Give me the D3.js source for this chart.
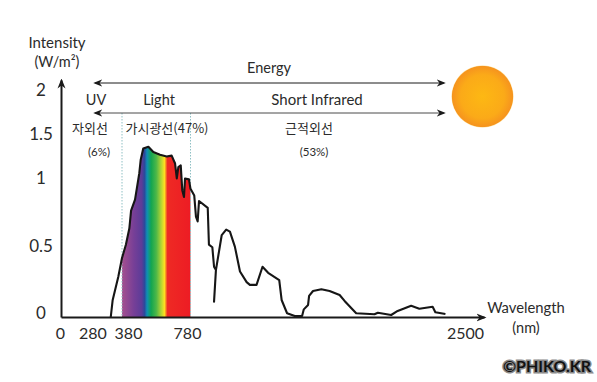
<!DOCTYPE html>
<html>
<head>
<meta charset="utf-8">
<script src="https://cdn.jsdelivr.net/npm/d3@7"></script>
<style>
  html, body { margin: 0; padding: 0; background: #fff; }
  svg { display: block; }
  text { font-family: Lato, "Noto Sans", sans-serif; fill: #2b2b2b; }
  .ko { font-family: "Noto Sans CJK KR", sans-serif; }
</style>
</head>
<body>
<div id="chart-area"></div>
<script>
const wavelength = [310, 322, 357, 380, 403, 423, 433, 456, 481, 489, 504, 534, 563, 602, 641, 670, 690, 700, 709, 723, 732, 742, 748, 771, 780,
  802, 812, 822, 830, 881, 888, 908, 918, 929, 918, 929, 963, 989, 1011, 1040, 1070, 1109, 1128, 1167, 1202, 1235, 1300, 1314, 1346, 1391, 1434,
  1444, 1469, 1475, 1498, 1547, 1595, 1654, 1683, 1712, 1751, 1858, 1878, 1956, 1994, 2073, 2121, 2199, 2215, 2274]
const intensity = [0, 0.127, 0.30, 0.44, 0.54, 0.66, 0.79, 0.87, 1.10, 1.25, 1.38, 1.40, 1.34, 1.31, 1.29, 1.30, 1.21, 1.04, 1.17, 1.19, 0.94, 0.89, 1.04, 1.03, 0.95,
  0.90, 0.745, 0.71, 0.86, 0.81, 0.54, 0.52, 0.375, 0.35, 0.115, 0.35, 0.61, 0.65, 0.635, 0.525, 0.34, 0.26, 0.24, 0.24, 0.375, 0.33, 0.276, 0.127, 0.028, 0.007, 0.007,
  0.057, 0.09, 0.157, 0.194, 0.207, 0.194, 0.164, 0.12, 0.08, 0.028, 0.02, 0.032, 0.015, 0.045, 0.084, 0.062, 0.077, 0.035, 0.022]

const xTicks = [0, 280, 380, 780, 2500]
const yTicks = [0, 0.5, 1, 1.5, 2]

const spectrumNm = [380, 450, 495, 512, 526, 550, 580, 615, 628, 645, 780]
const spectrumColors = ["#a5508f", "#763f97", "#5c3c98", "#2a4a9c", "#0f8fb5", "#12a550", "#4cb748", "#c9d92e", "#fde021", "#ee2a24", "#ed1c24"]

const points = wavelength.map((w, i) => ({ w, v: intensity[i] }))

const dimensions = { width: 597, height: 382 }

// The axes of the original are not linear, so the scales are piecewise
const xScale = d3.scaleLinear()
  .domain([0, 380, 780, 2500])
  .range([61, 122, 190.5, 484])

const yScale = d3.scaleLinear()
  .domain([0, 0.5, 1, 1.5, 2, 2.3])
  .range([317, 250, 182, 138, 94, 80])

const wrapper = d3.select("#chart-area").append("svg")
  .attr("width", dimensions.width)
  .attr("height", dimensions.height)

const defs = wrapper.append("defs")

const addArrow = (id, size) => {
  defs.append("marker")
    .attr("id", id)
    .attr("viewBox", "0 0 10 10")
    .attr("refX", 8)
    .attr("refY", 5)
    .attr("markerUnits", "userSpaceOnUse")
    .attr("markerWidth", size)
    .attr("markerHeight", size)
    .attr("orient", "auto-start-reverse")
    .append("path")
    .attr("d", "M0,1 L10,5 L0,9 L3,5 Z")
    .attr("fill", "#1a1a1a")
}
addArrow("arrow", 9)
addArrow("axis-arrow", 10)

const spectrum = defs.append("linearGradient")
  .attr("id", "spectrum")
  .attr("gradientUnits", "userSpaceOnUse")
  .attr("x1", xScale(380))
  .attr("x2", xScale(780))
  .attr("y1", 0)
  .attr("y2", 0)
spectrum.selectAll("stop")
  .data(spectrumNm)
  .join("stop")
  .attr("offset", d => (xScale(d) - xScale(380)) / (xScale(780) - xScale(380)))
  .attr("stop-color", (d, i) => spectrumColors[i])

const sunGradient = defs.append("radialGradient").attr("id", "sun")
sunGradient.append("stop").attr("offset", "0%").attr("stop-color", "#fdb813")
sunGradient.append("stop").attr("offset", "70%").attr("stop-color", "#fbaa18")
sunGradient.append("stop").attr("offset", "97%").attr("stop-color", "#f6941e")
sunGradient.append("stop").attr("offset", "100%").attr("stop-color", "#fbd98a")

// Spectrum under the curve, 380 to 780 only
const visible = points.filter(d => d.w >= 380 && d.w <= 780)
const areaGenerator = d3.area()
  .x(d => xScale(d.w))
  .y0(yScale(0))
  .y1(d => yScale(d.v))
wrapper.append("path")
  .attr("d", areaGenerator(visible))
  .attr("fill", "url(#spectrum)")

// Dotted limits of the visible band
wrapper.selectAll(".band")
  .data([380, 780])
  .join("line")
  .attr("class", "band")
  .attr("x1", d => xScale(d))
  .attr("x2", d => xScale(d))
  .attr("y1", 113)
  .attr("y2", 317)
  .attr("stroke", "#8fc0c4")
  .attr("stroke-width", 1)
  .attr("stroke-dasharray", "1.5 1.5")

// Curve
const lineGenerator = d3.line()
  .x(d => xScale(d.w))
  .y(d => yScale(d.v))
wrapper.append("path")
  .attr("d", lineGenerator(points))
  .attr("fill", "none")
  .attr("stroke", "#161616")
  .attr("stroke-width", 2.1)
  .attr("stroke-linejoin", "round")

// Axes
const xAxisGenerator = d3.axisBottom(xScale)
  .tickValues(xTicks)
  .tickSize(0)
  .tickPadding(0)
  .tickFormat(d3.format("d"))
const xAxis = wrapper.append("g")
  .attr("transform", `translate(0, ${yScale(0)})`)
  .call(xAxisGenerator)

const yAxisGenerator = d3.axisLeft(yScale)
  .tickValues(yTicks)
  .tickSize(0)
  .tickFormat(d => d)
const yAxis = wrapper.append("g")
  .attr("transform", `translate(${xScale(0)}, 0)`)
  .call(yAxisGenerator)

xAxis.select(".domain").attr("stroke", "#1a1a1a").attr("stroke-width", 2).attr("marker-end", "url(#axis-arrow)")
yAxis.select(".domain").attr("stroke", "#1a1a1a").attr("stroke-width", 2).attr("marker-end", "url(#axis-arrow)")

// Labels sit off their ticks in the original
const xLabelShift = { 0: -1, 280: -13.5, 380: 6, 780: -3.5, 2500: -19 }
xAxis.selectAll(".tick text")
  .attr("dx", d => xLabelShift[d])
  .attr("y", 22)
  .attr("dy", 0)
  .attr("font-size", 16)
  .style("font-family", "Lato, sans-serif")
  .attr("text-anchor", "middle")
yAxis.selectAll(".tick text")
  .attr("x", -20)
  .attr("dy", "0.32em")
  .attr("y", -4)
  .attr("font-size", 17)
  .style("font-family", "Lato, sans-serif")
  .attr("text-anchor", "middle")

// Energy arrows
wrapper.selectAll(".energy")
  .data([83, 113])
  .join("line")
  .attr("class", "energy")
  .attr("x1", 95)
  .attr("x2", 444)
  .attr("y1", d => d)
  .attr("y2", d => d)
  .attr("stroke", (d, i) => i ? "#4a4a4a" : "#1a1a1a")
  .attr("stroke-width", 1)
  .attr("marker-start", "url(#arrow)")
  .attr("marker-end", "url(#arrow)")

// Sun
wrapper.append("circle")
  .attr("cx", 482.5)
  .attr("cy", 96.5)
  .attr("r", 31)
  .attr("fill", "url(#sun)")

const labels = [
  ["Intensity", 57, 48, 15],
  ["(W/m²)", 57, 67, 14.5],
  ["Energy", 269, 73, 14.5],
  ["UV", 96, 105, 14.5],
  ["Light", 159, 105, 14.5],
  ["Short Infrared", 317, 105, 15],
  ["(6%)", 99, 156, 11.5],
  ["(53%)", 314, 156, 11.5],
  ["Wavelength", 526, 313, 14.8],
  ["(nm)", 526, 333, 14.5]
]
wrapper.selectAll(".label")
  .data(labels)
  .join("text")
  .attr("class", "label")
  .attr("x", d => d[1])
  .attr("y", d => d[2])
  .attr("font-size", d => d[3])
  .attr("text-anchor", "middle")
  .text(d => d[0])

const koLabels = [
  ["자외선", 90, 133],
  ["가시광선(47%)", 167, 133],
  ["근적외선", 309, 133]
]
wrapper.selectAll(".ko")
  .data(koLabels)
  .join("text")
  .attr("class", "ko")
  .attr("x", d => d[1])
  .attr("y", d => d[2])
  .attr("font-size", 13)
  .attr("text-anchor", "middle")
  .text(d => d[0])

wrapper.append("text")
  .attr("x", 547)
  .attr("y", 372)
  .attr("font-size", 16)
  .attr("font-weight", 700)
  .attr("text-anchor", "middle")
  .attr("stroke", "#8a8a8a")
  .attr("stroke-width", 3)
  .attr("paint-order", "stroke")
  .style("fill", "#111")
  .text("©PHIKO.KR")
</script>
</body>
</html>
